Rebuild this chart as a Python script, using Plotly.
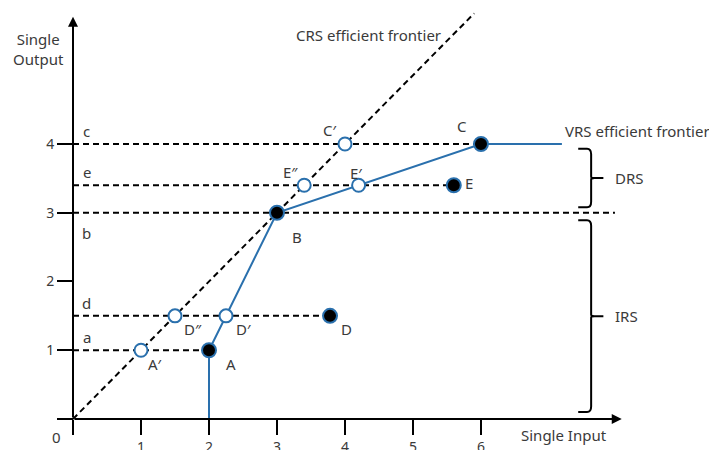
import plotly.graph_objects as go

# ---------------- data ----------------
# VRS efficient frontier (piecewise linear)
vrs_x = [2, 2, 3, 6, 7.19]
vrs_y = [0, 1, 3, 4, 4]
# CRS efficient frontier (ray from origin)
crs_x = [0, 5.9]
crs_y = [0, 5.9]

# horizontal dashed reference levels
level_names = ["c", "e", "b", "d", "a"]
level_y = [4, 3.4, 3, 1.5, 1]
level_end = [7.19, 5.6, 7.97, 3.78, 2]

# observed DMUs (filled) and projections (hollow)
filled_names = ["A", "B", "C", "D", "E"]
filled_x = [2, 3, 6, 3.78, 5.6]
filled_y = [1, 3, 4, 1.5, 3.4]

hollow_names = ["A\u2032", "D\u2033", "D\u2032", "E\u2033", "E\u2032", "C\u2032"]
hollow_x = [1, 1.5, 2.25, 3.4, 4.2, 4]
hollow_y = [1, 1.5, 1.5, 3.4, 3.4, 4]

# returns-to-scale ranges (braces)
rts_names = ["DRS", "IRS"]
rts_low = [3.08, 0.1]
rts_high = [3.93, 2.89]

x_ticks = [0, 1, 2, 3, 4, 5, 6]
x_tick_text = ["", "1", "2", "3", "4", "5", "6"]
y_ticks = [0, 1, 2, 3, 4]
y_tick_text = ["", "1", "2", "3", "4"]

# ---------------- styling ----------------
BLUE = "#2a70ad"
TXT = "#3a3a3a"
FONT = "Noto Sans"
W, H = 709, 442          # page body has an 8px margin
X_RANGE = [-0.956, 9.471]
Y_RANGE = [-0.451, 5.978]
X_AXIS_END = 8.07
Y_AXIS_END = 5.85

fig = go.Figure()

# dashed level lines
for name, yv, xe in zip(level_names, level_y, level_end):
    fig.add_trace(go.Scatter(x=[0, xe], y=[yv, yv], mode="lines",
                             line=dict(color="black", width=2, dash="6px,4px"),
                             hoverinfo="skip", showlegend=False))

# CRS frontier
fig.add_trace(go.Scatter(x=crs_x, y=crs_y, mode="lines",
                         line=dict(color="black", width=2, dash="6px,4px"),
                         hoverinfo="skip", showlegend=False))
# VRS frontier
fig.add_trace(go.Scatter(x=vrs_x, y=vrs_y, mode="lines",
                         line=dict(color=BLUE, width=2),
                         hoverinfo="skip", showlegend=False))

# hollow markers
fig.add_trace(go.Scatter(x=hollow_x, y=hollow_y, mode="markers",
                         marker=dict(size=13, color="white", line=dict(color=BLUE, width=2)),
                         hoverinfo="skip", showlegend=False))
# filled markers
fig.add_trace(go.Scatter(x=filled_x, y=filled_y, mode="markers",
                         marker=dict(size=14, color="black", line=dict(color=BLUE, width=2)),
                         hoverinfo="skip", showlegend=False))

ann = []
font = dict(family=FONT, size=15, color=TXT)

# level letters
for name, yv in zip(level_names, level_y):
    shift = -20 if name == "b" else 13
    ann.append(dict(x=0.2, y=yv, text=name, showarrow=False, font=font,
                    yshift=shift, xanchor="center"))

# point label offsets (pixels)
offsets = {
    "A": (22, -14), "B": (20, -24), "C": (-19, 18), "D": (16, -13), "E": (15, 2),
    "A\u2032": (14, -14), "D\u2033": (18, -13), "D\u2032": (17, -13),
    "E\u2033": (-14, 13), "E\u2032": (-3, 12), "C\u2032": (-15, 14),
}
for names, xs, ys in [(filled_names, filled_x, filled_y), (hollow_names, hollow_x, hollow_y)]:
    for n, xv, yv in zip(names, xs, ys):
        dx, dy = offsets[n]
        ann.append(dict(x=xv, y=yv, text=n, showarrow=False, font=font,
                        xshift=dx, yshift=dy))

# axes as arrows
ann.append(dict(x=X_AXIS_END, y=0, ax=0, ay=0, axref="x", ayref="y", xref="x", yref="y",
                text="", showarrow=True, arrowhead=2, arrowsize=1, arrowwidth=2,
                arrowcolor="black", standoff=0, startstandoff=0))
ann.append(dict(x=0, y=Y_AXIS_END, ax=0, ay=0, axref="x", ayref="y", xref="x", yref="y",
                text="", showarrow=True, arrowhead=2, arrowsize=1, arrowwidth=2,
                arrowcolor="black", standoff=0, startstandoff=0))

# axis titles and other texts
ann.append(dict(x=0, y=Y_AXIS_END, text="Single<br>Output", showarrow=False, font=font,
                xshift=-35, yshift=-32, align="center"))
ann.append(dict(x=X_AXIS_END, y=0, text="Single Input", showarrow=False, font=font,
                xshift=-58, yshift=-16))
ann.append(dict(x=crs_x[1], y=crs_y[1], text="CRS efficient frontier", showarrow=False,
                font=font, xshift=-106, yshift=-22))
ann.append(dict(x=vrs_x[-1], y=vrs_y[-1], text="VRS efficient frontier", showarrow=False,
                font=font, xshift=76, yshift=13))
ann.append(dict(x=0, y=0, text="0", showarrow=False, font=font, xshift=-17, yshift=-18))

# braces
BR_LEFT, BR_V, BR_TIP = 7.43, 7.62, 7.8
shapes = []
for name, lo, hi in zip(rts_names, rts_low, rts_high):
    mid = (lo + hi) / 2
    r = 0.08
    path = (f"M {BR_LEFT},{hi} L {BR_V-0.06},{hi} Q {BR_V},{hi} {BR_V},{hi-r} "
            f"L {BR_V},{mid+0.02} Q {BR_V},{mid} {BR_V+0.05},{mid} L {BR_TIP},{mid} "
            f"M {BR_V+0.05},{mid} Q {BR_V},{mid} {BR_V},{mid-0.02} "
            f"L {BR_V},{lo+r} Q {BR_V},{lo} {BR_V-0.06},{lo} L {BR_LEFT},{lo}")
    shapes.append(dict(type="path", xref="x", yref="y", path=path,
                       line=dict(color="black", width=2)))
    ann.append(dict(x=BR_TIP, y=mid, text=name, showarrow=False, font=font,
                    xanchor="left", xshift=10))

fig.update_layout(
    width=W, height=H, margin=dict(l=0, r=0, t=0, b=0, autoexpand=False),
    paper_bgcolor="white", plot_bgcolor="white",
    annotations=ann, shapes=shapes, showlegend=False,
    xaxis=dict(range=X_RANGE, showgrid=False, zeroline=False, showline=False,
               automargin=False,
               anchor="free", position=31 / H, ticks="outside", ticklen=15,
               tickwidth=2, tickcolor="black", tickvals=x_ticks, ticktext=x_tick_text,
               tickfont=dict(family=FONT, size=14, color=TXT)),
    yaxis=dict(range=Y_RANGE, showgrid=False, zeroline=False, showline=False,
               automargin=False,
               anchor="free", position=65 / W, ticks="outside", ticklen=16,
               tickwidth=2, tickcolor="black", tickvals=y_ticks, ticktext=y_tick_text,
               tickfont=dict(family=FONT, size=14, color=TXT)),
)

fig.write_html("out.html")
